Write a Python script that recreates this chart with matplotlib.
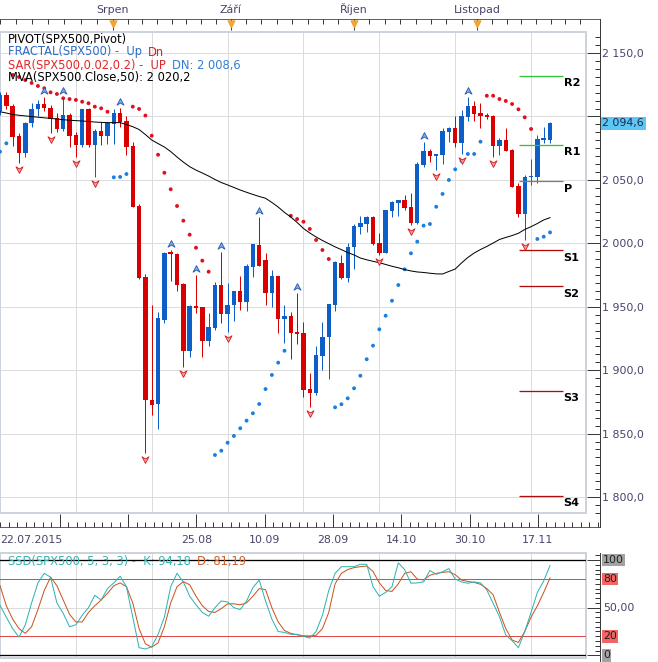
import matplotlib
matplotlib.use('Agg')
import matplotlib.pyplot as plt
import matplotlib.transforms as mtransforms
from matplotlib.path import Path
from matplotlib.patches import Rectangle
from matplotlib.lines import Line2D
from matplotlib.ticker import MultipleLocator, FuncFormatter

plt.rcParams['font.family'] = 'DejaVu Sans'

# ---- data (SPX500 daily, 22.07.2015 - 20.11.2015) ----
opens = [2104, 2117, 2108, 2084.5, 2071, 2094.6, 2106, 2110, 2107, 2098.5,
         2090, 2101, 2085.5, 2077.5, 2105.6, 2077.5, 2088.5, 2084.6, 2094, 2103,
         2096.6, 2076.7, 2029.4, 1973.7, 1876.5, 1873, 1939.6, 1993.4, 1991.6, 1968,
         1915, 1950.6, 1949.5, 1923.3, 1933, 1967, 1944, 1951.4, 1962, 1954,
         1981.6, 1998.7, 1987, 1961, 1974, 1940, 1942.7, 1930, 1929.5, 1884.9,
         1882, 1911, 1926, 1951.4, 1984.7, 1973, 1996.8, 2013, 2015, 2021,
         2000, 1992.6, 2025.7, 2032, 2034, 2028.4, 2016, 2061.7, 2073, 2068.5,
         2069.6, 2088, 2091, 2079.3, 2099.3, 2108.2, 2102.5, 2101, 2100, 2076.7,
         2081.4, 2073.5, 2045, 2023, 2052, 2052.5, 2081.6, 2081.4]
highs = [2119, 2119.5, 2110, 2087, 2096, 2110.3, 2113, 2115.6, 2109, 2102.5,
         2115.6, 2103, 2088, 2106, 2106.5, 2090, 2095.8, 2095.8, 2105.6, 2106.4,
         2100.3, 2080, 2031, 1976, 1951.4, 1946, 1993, 1994.7, 1992.5, 1969,
         1951, 1975, 1950, 1945.3, 1969.7, 1993.4, 1968.4, 1962.5, 1974.2, 1983.7,
         1999.8, 2021, 1992, 1979, 1974.5, 1951, 1946, 1960.8, 1938.2, 1898,
         1919, 1938.2, 1952.5, 1986, 1990.8, 2000, 2015.2, 2021.5, 2021.5, 2021.5,
         2008.4, 2026.5, 2033, 2034.5, 2038, 2039.9, 2064, 2080, 2074, 2070.5,
         2090.6, 2091.9, 2100.3, 2105.1, 2115.6, 2112.4, 2110.3, 2103, 2101, 2082.8,
         2090.6, 2074, 2047.3, 2053.8, 2066.2, 2085.4, 2091.4, 2095.8]
lows = [2101, 2106, 2076.7, 2063.5, 2068, 2091.4, 2100, 2104, 2087, 2088,
        2088.8, 2075.7, 2068, 2076, 2076, 2052, 2077.5, 2078.3, 2078.3, 2092,
        2069.6, 2029, 1971.6, 1834.7, 1864.7, 1854, 1937, 1970.5, 1962, 1902.5,
        1910.6, 1945, 1910.6, 1919, 1931.7, 1937.4, 1930, 1939, 1947.4, 1946.9,
        1973.7, 1982, 1951.4, 1949.5, 1929, 1921.6, 1908.8, 1921, 1879.1, 1870.7,
        1880.4, 1900.1, 1893, 1946.9, 1972, 1969.7, 1979.5, 2007.3, 2009.1, 1999,
        1990.8, 1992, 2020.5, 2021.5, 2026.2, 2014.4, 2015, 2060.4, 2064.3, 2058,
        2062.5, 2080.1, 2076.1, 2070, 2096.6, 2096.6, 2090.6, 2097.7, 2067.8, 2069.6,
        2073, 2044.6, 2020.5, 2002.6, 2046, 2047.3, 2078.8, 2079.3]
closes = [2117, 2108, 2084, 2071, 2094.6, 2106, 2110, 2107, 2098, 2090,
          2101, 2084.6, 2077.5, 2105.6, 2077.5, 2088.5, 2084.6, 2094.6, 2103, 2096,
          2076, 2029, 1973, 1876.5, 1872.8, 1941, 1992.6, 1991.5, 1967, 1915.3,
          1950.6, 1949.2, 1923, 1934, 1967, 1944, 1951.4, 1962, 1954, 1982,
          1999.4, 1982, 1961, 1974, 1940, 1942.5, 1929.5, 1928.5, 1884, 1882.2,
          1912, 1926, 1952, 1985.5, 1972.4, 1997.4, 2013.6, 2016, 2021, 1999.4,
          1992.6, 2026, 2032.5, 2034, 2027.6, 2015.8, 2062.5, 2073, 2068.8, 2070,
          2088.8, 2091, 2079.3, 2100, 2108.2, 2101.7, 2100.6, 2099.3, 2076.7, 2081.4,
          2073, 2044.6, 2023, 2052, 2053, 2082, 2082, 2094.6]

sar = [2072.2, 2078.8, 2132.7, 2131.1, 2128.7, 2126.4, 2124.0, 2122.2, 2119.0, 2117.7,
       2114.3, 2113.7, 2113.0, 2111.6, 2110.4, 2107.7, 2106.4, 2103.7, 2052.0, 2052.3,
       2054.6, 2107.7, 2105.9, 2100.7, 2084.8, 2069.8, 2055.6, 2042.6, 2029.4, 2017.8,
       2006.8, 1996.5, 1986.3, 1977.6, 1833.1, 1836.5, 1842.8, 1848.1, 1854.2, 1860.2,
       1866.0, 1873.3, 1885.1, 1896.2, 1905.9, 1915.3, 2021.7, 2019.1, 2017.0, 2011.3,
       2002.6, 1994.7, 1987.6, 1870.7, 1873.1, 1877.8, 1885.7, 1895.6, 1908.6, 1919.3,
       1932.2, 1942.9, 1954.7, 1967.1, 1979.5, 1992.1, 2001.3, 2013.9, 2015.2, 2028.8,
       2038.9, 2049.9, 2058.3, 2064.9, 2070.4, 2070.4, 2080.1, 2116.3, 2116.3, 2113.7,
       2112.2, 2109.8, 2105.6, 2099.3, 2090.1, 2003.4, 2005.2, 2008.6]

mva50 = [2103.7, 2102.7, 2101.5, 2100.9, 2100.4, 2099.9, 2099.4, 2098.9, 2098.4, 2098.0,
         2097.4, 2097.0, 2096.7, 2096.4, 2096.0, 2095.6, 2095.3, 2095.1, 2095.1, 2095.1,
         2093.6, 2091.9, 2089.7, 2085.7, 2081.4, 2078.6, 2075.9, 2072.3, 2068.0, 2064.0,
         2060.4, 2057.7, 2055.4, 2053.0, 2050.3, 2047.9, 2046.0, 2044.0, 2042.0, 2040.2,
         2038.5, 2036.9, 2035.5, 2032.2, 2028.6, 2024.3, 2020.7, 2016.4, 2011.7, 2008.1,
         2005.0, 2002.2, 1999.7, 1997.2, 1995.0, 1992.7, 1990.8, 1988.4, 1987.0, 1985.8,
         1984.7, 1983.3, 1981.9, 1980.7, 1979.3, 1978.2, 1977.4, 1977.0, 1976.4, 1975.9,
         1975.8, 1977.8, 1979.7, 1984.5, 1988.8, 1992.3, 1995.1, 1997.5, 2000.2, 2003.0,
         2004.6, 2006.1, 2007.9, 2010.9, 2013.1, 2015.6, 2018.4, 2020.2]

fractal_up = [7, 10, 19, 27, 31, 35, 41, 47, 67, 74]
fractal_dn = [3, 8, 12, 15, 23, 29, 36, 49, 60, 65, 69, 73, 78, 83]

pivot_names = ['R2', 'R1', 'P', 'S1', 'S2', 'S3', 'S4']
pivot_levels = [2131.9, 2077.5, 2049.1, 1994.7, 1966.0, 1883.6, 1800.8]

stoch_k = [52.5, 40, 28, 19, 32, 55, 76, 86, 82, 55,
           44, 30, 32, 42, 50, 63, 58, 70, 76, 83,
           72, 40, 8, 6.6, 9, 22, 40, 72, 86, 77,
           62, 53, 45, 41, 50, 57, 56, 50, 48, 57,
           71, 79, 57, 38, 25, 24, 22, 22, 20, 18,
           25, 42, 68, 86, 93, 93, 93, 95.5, 95.5, 72,
           62, 66, 72, 97, 90, 75.6, 76, 77, 89, 85,
           87.7, 91, 80, 77, 75.6, 77, 76, 68.5, 54.5, 40.6,
           21.3, 15.4, 8, 25, 45, 66, 78, 94.18]
stoch_d = [73, 52, 38, 28, 23, 30, 48, 68, 82, 73,
           58, 43, 35, 35, 45, 52, 58, 65, 73, 76,
           72, 55, 28, 12, 8.5, 13, 30, 55, 72, 77.3,
           74, 62, 52, 46, 45, 49, 54, 54, 53, 55,
           62, 70, 69, 50, 35, 26, 23, 21.5, 20.5, 20.3,
           21, 28, 45, 75, 86, 90, 92, 93, 93.7, 88,
           76, 68, 67, 75, 86, 87.7, 80, 79, 84, 86,
           87, 87.7, 84.6, 79, 77.5, 76.5, 74.5, 70, 63.5, 45,
           28, 16, 13.5, 25, 40, 52, 66, 81.19]

month_names = ['Srpen', 'Září', 'Říjen', 'Listopad']
month_bars = [8, 29, 51, 73]
month_edges = [-15, 8, 29, 51, 73, 94]      # first trading bar of Jul..Dec
date_labels = ['22.07.2015', '', '25.08', '10.09', '28.09', '14.10', '30.10', '17.11']
date_bars = [0, 12, 24, 36, 48, 60, 72, 84]

# ---- layout (pixels of the 658x662 picture) ----
W, H, DPI = 658, 662, 72
BAR_PX, BAR0_PX = 6.333, -1.0
PLOT_R, AXIS_X = 586, 599.5

GRID = '#dcdcdc'
BORDER = '#ccd3da'
AXIS = '#3a3a3a'
LABEL = '#45456a'
RED = '#d80000'
BLUE = '#0d5ec6'


def px_axes(fig, left, top, right, bottom):
    return fig.add_axes([left / W, 1 - bottom / H, (right - left) / W, (bottom - top) / H])


def bar_xlim(left, right):
    return (left - BAR0_PX) / BAR_PX, (right - BAR0_PX) / BAR_PX


def price_at(y):
    return 2150 - (y - 53) / 1.2686


def stoch_at(y):
    return (655.3 - y) / 0.953


def price_fmt(v, pos=None):
    return f'{v:,.1f}'.replace(',', ' ').replace('.', ',')


def axis_price_fmt(v, pos=None):
    # the last-price box covers the neighbouring axis label
    if abs(v - closes[-1]) < 10:
        return ''
    return price_fmt(v)


def fy(y):
    return 1 - y / H


def right_axis(ax):
    for s in ['top', 'left', 'bottom']:
        ax.spines[s].set_visible(False)
    ax.spines['right'].set_position(('outward', AXIS_X - PLOT_R))
    ax.spines['right'].set_color(AXIS)
    ax.yaxis.tick_right()
    ax.tick_params(axis='y', which='both', direction='in', color=AXIS, width=1)
    ax.tick_params(axis='y', which='major', length=13)
    ax.tick_params(axis='y', which='minor', length=5)
    ax.set_xticks(date_bars)
    ax.tick_params(axis='x', length=0, labelbottom=False)
    ax.grid(True, which='major', color=GRID, lw=1)
    ax.set_axisbelow(True)
    ax.add_patch(Rectangle((0, 0), 1, 1, transform=ax.transAxes, fill=False,
                           ec=BORDER, lw=2, clip_on=False, zorder=1))


def legend_line(ax, y, parts, size=11.5):
    prev = None
    for txt, col in parts:
        if prev is None:
            prev = ax.text(8 / W, fy(y), txt, transform=ax.figure.transFigure,
                           color=col, fontsize=size, va='center', ha='left', zorder=20)
        else:
            prev = ax.annotate(txt, xy=(1, 0.5), xycoords=prev, xytext=(6, 0),
                               textcoords='offset points', color=col, fontsize=size,
                               va='center', ha='left', zorder=20)


fig = plt.figure(figsize=(W / DPI, H / DPI), dpi=DPI)
fig.patch.set_facecolor('white')

# ---- price panel ----
ax = px_axes(fig, 0, 32, PLOT_R, 513)
ax.set_xlim(*bar_xlim(0, PLOT_R))
ax.set_ylim(price_at(513), price_at(32))
right_axis(ax)
ax.yaxis.set_major_locator(MultipleLocator(50))
ax.yaxis.set_minor_locator(MultipleLocator(6.25))
ax.yaxis.set_major_formatter(FuncFormatter(axis_price_fmt))
ax.tick_params(axis='y', which='major', pad=3, labelsize=11, labelcolor=LABEL)

xs = list(range(len(closes)))
cols = [BLUE if c >= o else RED for o, c in zip(opens, closes)]
ax.vlines(xs, lows, highs, colors=cols, lw=1, zorder=3)
ax.bar(xs, [max(abs(c - o), 1.3) for o, c in zip(opens, closes)],
       bottom=[min(o, c) for o, c in zip(opens, closes)],
       width=0.7, color=cols, lw=0, zorder=4)

ax.scatter(xs, sar, s=15, lw=0, zorder=5,
           c=['#e0101e' if s > c else '#1b7fe0' for s, c in zip(sar, closes)])
ax.plot(xs, mva50, color='black', lw=1, zorder=6)

up_arrow = Path([(0, 1), (0.9, -0.7), (0, -0.15), (-0.9, -0.7), (0, 1)],
                [Path.MOVETO, Path.LINETO, Path.LINETO, Path.LINETO, Path.CLOSEPOLY])
dn_arrow = Path([(0, -1), (0.9, 0.7), (0, 0.15), (-0.9, 0.7), (0, -1)],
                [Path.MOVETO, Path.LINETO, Path.LINETO, Path.LINETO, Path.CLOSEPOLY])
above = mtransforms.offset_copy(ax.transData, fig=fig, y=6, units='points')
below = mtransforms.offset_copy(ax.transData, fig=fig, y=-6, units='points')
ax.scatter(fractal_up, [highs[i] for i in fractal_up], marker=up_arrow, s=60,
           fc='#86aee2', ec='#2a5db5', lw=0.9, transform=above, zorder=7)
ax.scatter(fractal_dn, [lows[i] for i in fractal_dn], marker=dn_arrow, s=60,
           fc='#f6a3a3', ec='#d91f1f', lw=0.9, transform=below, zorder=7)

pivot_colors = {'R': '#33c233', 'P': '#808080', 'S': '#b00c0c'}
x0, x1 = bar_xlim(519, 562.5)
for name, lvl in zip(pivot_names, pivot_levels):
    ax.hlines(lvl, x0, x1, color=pivot_colors[name[0]], lw=1.3, zorder=6)
    ax.annotate(name, xy=(x1, lvl), xytext=(1, -2.5), textcoords='offset points',
                ha='left', va='top', fontsize=11.3, fontweight='bold', color='black', zorder=8)

ax.annotate(price_fmt(closes[-1]), xy=(1, closes[-1]), xycoords=ax.get_yaxis_transform(),
            xytext=(AXIS_X - PLOT_R + 3, 0), textcoords='offset points', ha='left', va='center',
            fontsize=11, color='#1c2a48', annotation_clip=False, zorder=10,
            bbox=dict(boxstyle='square,pad=0.15', fc='#5cc6f4', ec='none'))

legend_line(ax, 39, [('PIVOT(SPX500,Pivot)', 'black')])
legend_line(ax, 52, [('FRACTAL(SPX500) -  Up', '#2f6cc4'), ('Dn', '#d42020')])
legend_line(ax, 65, [('SAR(SPX500,0.02,0.2) -  UP', '#e3262b'),
                     ('DN: ' + price_fmt(sar[-1]), '#2f7fd6')])
legend_line(ax, 78, [('MVA(SPX500.Close,50): ' + price_fmt(mva50[-1]), 'black')])

# ---- month strip on top ----
top = px_axes(fig, 0, 19, AXIS_X, 31)
top.set_xlim(*bar_xlim(0, AXIS_X))
top.set_ylim(0, 1)
top.patch.set_visible(False)
for s in ['left', 'bottom', 'right']:
    top.spines[s].set_visible(False)
top.spines['top'].set_color(AXIS)
top.xaxis.tick_top()
top.set_xticks(month_bars, labels=month_names)
top.set_xticks([a + (b - a) * k / 8 for a, b in zip(month_edges[:-1], month_edges[1:])
                for k in range(1, 8)], minor=True)
top.set_yticks([])
top.tick_params(axis='x', which='both', direction='in', color=AXIS, width=1)
top.tick_params(axis='x', which='major', length=11, pad=4, labelsize=11, labelcolor=LABEL)
top.tick_params(axis='x', which='minor', length=5)
top.scatter(month_bars, [0.58] * len(month_bars), marker='v', s=55, color='#f7a52a',
            ec='#e58c10', lw=0.5, zorder=5, clip_on=False)

# ---- date strip under the price panel ----
bot = px_axes(fig, 0, 513, AXIS_X, 527)
bot.set_xlim(*bar_xlim(0, AXIS_X))
bot.set_ylim(0, 1)
bot.patch.set_visible(False)
for s in ['left', 'top', 'right']:
    bot.spines[s].set_visible(False)
bot.spines['bottom'].set_color(AXIS)
bot.set_xticks(date_bars, labels=[''] * len(date_bars))
bot.set_xticks([b + 1.5 * k for b in range(-12, 96, 12) for k in range(1, 8)], minor=True)
bot.set_yticks([])
bot.tick_params(axis='x', which='both', direction='in', color=AXIS, width=1)
bot.tick_params(axis='x', which='major', length=13)
bot.tick_params(axis='x', which='minor', length=5)
date_tf = mtransforms.blended_transform_factory(bot.transData, fig.transFigure)
xlo = bot.get_xlim()[0]
for b, lab in zip(date_bars, date_labels):
    if b == 0:
        bot.text(xlo + 0.1, fy(540), lab, transform=date_tf,
                 ha='left', va='center', fontsize=11, color=LABEL)
    else:
        bot.text(b, fy(540), lab, transform=date_tf,
                 ha='center', va='center', fontsize=11, color=LABEL)

# ---- stochastic panel ----
st = px_axes(fig, 0, 553, PLOT_R, 657.5)
st.set_xlim(*bar_xlim(0, PLOT_R))
st.set_ylim(stoch_at(657.5), stoch_at(553))
right_axis(st)
st.set_yticks([0, 50, 100], labels=['', '', ''])
st.yaxis.set_minor_locator(MultipleLocator(5))
st.axhline(100, color='black', lw=1.3, zorder=2)
st.axhline(0, color='black', lw=1.3, zorder=2)
st.axhline(80, color='#e04848', lw=1, zorder=2)
st.axhline(20, color='#e04848', lw=1, zorder=2)
st.plot(xs, stoch_d, color='#c9541f', lw=1, zorder=4)
st.plot(xs, stoch_k, color='#2db3b3', lw=1, zorder=5)

for val, txt, bg in [(100, '100', '#a3a3a3'), (80, '80', '#f26565'), (50, '50,00', 'none'),
                     (20, '20', '#f26565'), (0, '0', '#a3a3a3')]:
    st.annotate(txt, xy=(1, val), xycoords=st.get_yaxis_transform(),
                xytext=(AXIS_X - PLOT_R + 3.5, 0), textcoords='offset points',
                ha='left', va='center', fontsize=11, annotation_clip=False,
                color='#1f1f1f' if bg != 'none' else LABEL,
                bbox=dict(boxstyle='square,pad=0.12', fc=bg, ec='none'))

legend_line(st, 562, [('SSD(SPX500, 5, 3, 3) -  K: ' + f'{stoch_k[-1]:.2f}'.replace('.', ','), '#35b3b3'),
                      ('D: ' + f'{stoch_d[-1]:.2f}'.replace('.', ','), '#d25e28')])

# right axis lines running through the strips
fig.add_artist(Line2D([AXIS_X / W] * 2, [fy(19), fy(527)], color=AXIS, lw=1))
fig.add_artist(Line2D([AXIS_X / W] * 2, [fy(553), 0], color=AXIS, lw=1))

fig.savefig('out.png', dpi=DPI)
